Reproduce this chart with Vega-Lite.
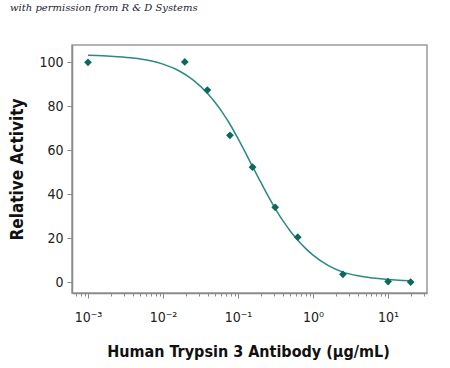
{
  "$schema": "https://vega.github.io/schema/vega-lite/v6.json",
  "autosize": "none",
  "width": 355,
  "height": 248,
  "padding": {"left": 72, "top": 45, "right": 23, "bottom": 75},
  "background": "white",
  "config": {
    "view": {"stroke": "#9a9a9a", "strokeWidth": 1.5},
    "font": "'Liberation Sans Narrow', 'DejaVu Sans Condensed', Roboto"
  },
  "title": {
    "text": "with permission from R & D Systems",
    "anchor": "start",
    "frame": "group",
    "orient": "top",
    "dx": -62,
    "offset": 24,
    "baseline": "alphabetic",
    "font": "DejaVu Serif",
    "fontStyle": "italic",
    "fontWeight": "normal",
    "fontSize": 10,
    "color": "#1c1c30"
  },
  "datasets": {
    "points": [
      {"conc": 0.001, "activity": 100},
      {"conc": 0.0195, "activity": 100.2},
      {"conc": 0.039, "activity": 87.4},
      {"conc": 0.078, "activity": 66.8},
      {"conc": 0.156, "activity": 52.3},
      {"conc": 0.3125, "activity": 34.1},
      {"conc": 0.625, "activity": 20.5},
      {"conc": 2.5, "activity": 3.6},
      {"conc": 10, "activity": 0.3},
      {"conc": 20, "activity": 0.1}
    ],
    "curve": [
      {"conc": 0.001, "activity": 103.2},
      {"conc": 0.00158, "activity": 103.0},
      {"conc": 0.00251, "activity": 102.6},
      {"conc": 0.00398, "activity": 102.0},
      {"conc": 0.00631, "activity": 101.0},
      {"conc": 0.01, "activity": 99.2},
      {"conc": 0.0158, "activity": 96.4},
      {"conc": 0.0251, "activity": 92.0},
      {"conc": 0.0398, "activity": 85.6},
      {"conc": 0.0501, "activity": 81.5},
      {"conc": 0.0631, "activity": 76.8},
      {"conc": 0.0794, "activity": 71.4},
      {"conc": 0.1, "activity": 65.3},
      {"conc": 0.126, "activity": 58.8},
      {"conc": 0.158, "activity": 52.2},
      {"conc": 0.2, "activity": 45.6},
      {"conc": 0.251, "activity": 39.3},
      {"conc": 0.316, "activity": 33.3},
      {"conc": 0.398, "activity": 27.9},
      {"conc": 0.501, "activity": 23.1},
      {"conc": 0.631, "activity": 19.0},
      {"conc": 0.794, "activity": 15.4},
      {"conc": 1, "activity": 12.3},
      {"conc": 1.58, "activity": 7.7},
      {"conc": 2.51, "activity": 4.6},
      {"conc": 3.98, "activity": 2.9},
      {"conc": 6.31, "activity": 1.9},
      {"conc": 10, "activity": 1.2},
      {"conc": 15.8, "activity": 0.8},
      {"conc": 20, "activity": 0.7}
    ]
  },
  "layer": [
    {
      "data": {"name": "curve"},
      "mark": {"type": "line", "color": "#2a8a82", "strokeWidth": 1.5, "interpolate": "monotone"},
      "encoding": {
        "x": {
          "field": "conc", "type": "quantitative",
          "scale": {"type": "log", "domain": [0.000612, 33.0], "nice": false, "zero": false},
          "axis": {
            "orient": "bottom",
            "values": [0.0007, 0.0008, 0.0009, 0.002, 0.003, 0.004, 0.005, 0.006, 0.007, 0.008, 0.009, 0.02, 0.03, 0.04, 0.05, 0.06, 0.07, 0.08, 0.09, 0.2, 0.3, 0.4, 0.5, 0.6, 0.7, 0.8, 0.9, 2, 3, 4, 5, 6, 7, 8, 9, 20, 30],
            "labels": false,
            "grid": false,
            "domain": false,
            "ticks": true,
            "tickSize": 3,
            "tickColor": "#8a8a8a",
            "tickWidth": 1,
            "title": null
          }
        },
        "y": {
          "field": "activity", "type": "quantitative",
          "scale": {"domain": [-4.9, 107.9], "nice": false, "zero": false},
          "axis": {
            "values": [0, 20, 40, 60, 80, 100],
            "grid": false,
            "domainColor": "#8a8a8a",
            "domainWidth": 1.5,
            "tickColor": "#8a8a8a",
            "tickSize": 5,
            "tickWidth": 1,
            "labelFontSize": 14,
            "labelColor": "#222222",
            "labelPadding": 4,
            "title": "Relative Activity",
            "titleFontSize": 17,
            "titleFontWeight": "bold",
            "titleColor": "#111111",
            "titleX": -50,
            "titleY": 124,
            "titleAngle": -90,
            "titleAlign": "center",
            "titleBaseline": "alphabetic"
          }
        }
      }
    },
    {
      "data": {"name": "points"},
      "mark": {"type": "point", "shape": "diamond", "filled": true, "color": "#0b6a5c", "opacity": 1, "size": 60},
      "encoding": {
        "x": {
          "field": "conc", "type": "quantitative",
          "axis": {
            "orient": "bottom",
            "values": [0.001, 0.01, 0.1, 1, 10],
            "labelExpr": "datum.value >= 10 ? '10¹' : datum.value >= 1 ? '10⁰' : datum.value >= 0.1 ? '10⁻¹' : datum.value >= 0.01 ? '10⁻²' : '10⁻³'",
            "grid": false,
            "domainColor": "#8a8a8a",
            "domainWidth": 1.5,
            "tickColor": "#8a8a8a",
            "tickSize": 5,
            "tickWidth": 1,
            "labelFontSize": 14,
            "labelColor": "#222222",
            "labelPadding": 12,
            "title": "Human Trypsin 3 Antibody (µg/mL)",
            "titleFontSize": 16,
            "titleFontWeight": "bold",
            "titleColor": "#111111",
            "titleX": 176,
            "titleY": 63,
            "titleBaseline": "alphabetic"
          }
        },
        "y": {"field": "activity", "type": "quantitative"}
      }
    }
  ],
  "resolve": {"axis": {"x": "independent"}}
}
